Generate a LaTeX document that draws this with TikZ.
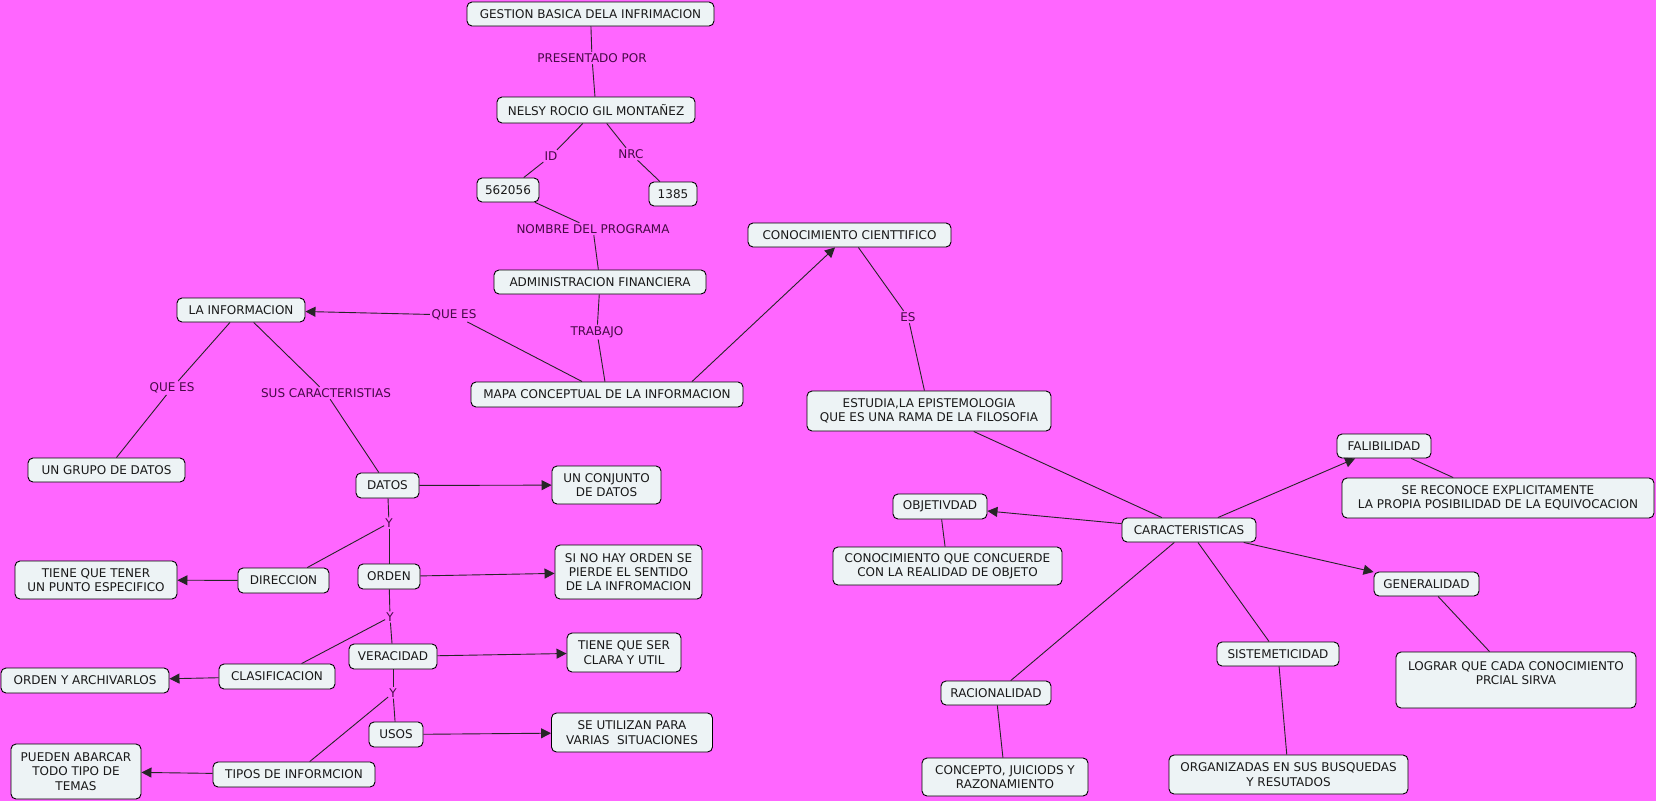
\documentclass[tikz,border=0pt]{standalone}
\usepackage{fontspec}
\setmainfont{DejaVu Sans}
\usetikzlibrary{arrows.meta}
\definecolor{bgpink}{RGB}{255,102,255}
\definecolor{boxfill}{RGB}{237,243,245}
\definecolor{lbltext}{RGB}{70,10,70}
\definecolor{boxtext}{RGB}{25,25,25}
\begin{document}
\begin{tikzpicture}[x=1pt,y=-1pt,
 cbox/.style={draw=black, fill=boxfill, rounded corners=5pt, line width=0.9pt, text=boxtext, align=center, font=\fontsize{12}{14.3}\selectfont, inner sep=2pt},
 lbl/.style={fill=bgpink, text=lbltext, font=\fontsize{12}{14.3}\selectfont, inner sep=1.5pt},
 ln/.style={draw=black!85, line width=0.9pt},
 arr/.style={ln, -{Triangle[length=10pt,width=10pt]}}]
\fill[bgpink] (0,0) rectangle (1656,801);
\useasboundingbox (0,0) rectangle (1656,801);

% concept nodes
\node[cbox, minimum width=247pt, minimum height=24pt] (gestion) at (590.5,14) {GESTION BASICA DELA INFRIMACION};
\node[cbox, minimum width=198pt, minimum height=26pt] (nelsy) at (596,110) {NELSY ROCIO GIL MONTAÑEZ};
\node[cbox, minimum width=62pt, minimum height=24pt] (idnum) at (508,190) {562056};
\node[cbox, minimum width=48pt, minimum height=24pt] (nrcnum) at (673,194) {1385};
\node[cbox, minimum width=212pt, minimum height=24pt] (admin) at (600,282) {ADMINISTRACION FINANCIERA};
\node[cbox, minimum width=272pt, minimum height=25pt] (mapa) at (607,394.5) {MAPA CONCEPTUAL DE LA INFORMACION};
\node[cbox, minimum width=128pt, minimum height=24pt] (lainfo) at (241,310) {LA INFORMACION};
\node[cbox, minimum width=157pt, minimum height=24pt] (grupo) at (106.5,470) {UN GRUPO DE DATOS};
\node[cbox, minimum width=63pt, minimum height=25pt] (datos) at (387.5,485.5) {DATOS};
\node[cbox, minimum width=109pt, minimum height=38pt] (conjunto) at (606.5,485) {UN CONJUNTO\\DE DATOS};
\node[cbox, minimum width=91pt, minimum height=25pt] (direccion) at (283.5,580.5) {DIRECCION};
\node[cbox, minimum width=162pt, minimum height=38pt] (tienetener) at (96,580) {TIENE QUE TENER\\UN PUNTO ESPECIFICO};
\node[cbox, minimum width=62pt, minimum height=25pt] (orden) at (389,576.5) {ORDEN};
\node[cbox, minimum width=147pt, minimum height=54pt] (sinohay) at (628.5,572) {SI NO HAY ORDEN SE\\PIERDE EL SENTIDO\\DE LA INFROMACION};
\node[cbox, minimum width=88pt, minimum height=25pt] (veracidad) at (393,656.5) {VERACIDAD};
\node[cbox, minimum width=114pt, minimum height=39pt] (tieneser) at (624,652.5) {TIENE QUE SER\\CLARA Y UTIL};
\node[cbox, minimum width=116pt, minimum height=25pt] (clasif) at (277,676.5) {CLASIFICACION};
\node[cbox, minimum width=168pt, minimum height=25pt] (ordenarch) at (85,680.5) {ORDEN Y ARCHIVARLOS};
\node[cbox, minimum width=54pt, minimum height=25pt] (usos) at (396,734.5) {USOS};
\node[cbox, minimum width=161pt, minimum height=39pt] (seutil) at (632,732.5) {SE UTILIZAN PARA\\VARIAS\ \ SITUACIONES};
\node[cbox, minimum width=162pt, minimum height=25pt] (tipos) at (294,774.5) {TIPOS DE INFORMCION};
\node[cbox, minimum width=130pt, minimum height=55pt] (pueden) at (76,771.5) {PUEDEN ABARCAR\\TODO TIPO DE\\TEMAS};
\node[cbox, minimum width=203pt, minimum height=24pt] (conocim) at (849.5,235) {CONOCIMIENTO CIENTTIFICO};
\node[cbox, minimum width=244pt, minimum height=40pt] (estudia) at (929,411) {ESTUDIA,LA EPISTEMOLOGIA\\QUE ES UNA RAMA DE LA FILOSOFIA};
\node[cbox, minimum width=134pt, minimum height=24pt] (caract) at (1189,530) {CARACTERISTICAS};
\node[cbox, minimum width=94pt, minimum height=24pt] (falib) at (1384,446) {FALIBILIDAD};
\node[cbox, minimum width=312pt, minimum height=40pt] (sereconoce) at (1498,498) {SE RECONOCE EXPLICITAMENTE\\LA PROPIA POSIBILIDAD DE LA EQUIVOCACION};
\node[cbox, minimum width=94pt, minimum height=25pt] (objet) at (940,506.5) {OBJETIVDAD};
\node[cbox, minimum width=229pt, minimum height=38pt] (concuerde) at (947.5,566) {CONOCIMIENTO QUE CONCUERDE\\CON LA REALIDAD DE OBJETO};
\node[cbox, minimum width=105pt, minimum height=24pt] (general) at (1426.5,584) {GENERALIDAD};
\node[cbox, minimum width=240pt, minimum height=56pt] (lograr) at (1516,680) {LOGRAR QUE CADA CONOCIMIENTO\\PRCIAL SIRVA\\ \mbox{}};
\node[cbox, minimum width=110pt, minimum height=24pt] (racional) at (996,693) {RACIONALIDAD};
\node[cbox, minimum width=166pt, minimum height=38pt] (concepto) at (1005,777) {CONCEPTO, JUICIODS Y\\RAZONAMIENTO};
\node[cbox, minimum width=122pt, minimum height=24pt] (sistem) at (1278,654) {SISTEMETICIDAD};
\node[cbox, minimum width=239pt, minimum height=39pt] (organiz) at (1288.5,774.5) {ORGANIZADAS EN SUS BUSQUEDAS\\Y RESUTADOS};

% link labels
\node[lbl] (lpresent) at (592,58) {PRESENTADO POR};
\node[lbl] (lid) at (551,156) {ID};
\node[lbl] (lnrc) at (631,154) {NRC};
\node[lbl] (lnombre) at (593,229) {NOMBRE DEL PROGRAMA};
\node[lbl] (ltrabajo) at (597,332) {TRABAJO};
\node[lbl] (lquees) at (454,315) {QUE ES};
\node[lbl] (lqueesb) at (172,388) {QUE ES};
\node[lbl] (lsus) at (326,393) {SUS CARACTERISTIAS};
\node[lbl] (les) at (908,317) {ES};
\node[lbl, inner sep=1pt] (ly1) at (389,523) {Y};
\node[lbl, inner sep=1pt] (ly2) at (390,617) {Y};
\node[lbl, inner sep=1pt] (ly3) at (393,693) {Y};

% connectors
\draw[ln] (gestion) -- (lpresent);
\draw[ln] (lpresent) -- (nelsy);
\draw[ln] (nelsy) -- (lid);
\draw[ln] (lid) -- (idnum);
\draw[ln] (nelsy) -- (lnrc);
\draw[ln] (lnrc) -- (nrcnum);
\draw[ln] (idnum) -- (lnombre);
\draw[ln] (lnombre) -- (admin);
\draw[ln] (admin) -- (ltrabajo);
\draw[ln] (ltrabajo) -- (mapa);
\draw[ln] (mapa) -- (lquees);
\draw[arr] (lquees) -- (lainfo);
\draw[arr] ([xshift=85pt]mapa.north) -- ([xshift=-14.5pt]conocim.south);
\draw[ln] (conocim) -- (les);
\draw[ln] (les) -- (estudia);
\draw[ln] (estudia) -- (caract);
\draw[arr] (caract) -- (falib);
\draw[ln] (falib) -- (sereconoce);
\draw[arr] (caract) -- (objet);
\draw[ln] (objet) -- (concuerde);
\draw[arr] (caract) -- (general);
\draw[ln] (general) -- (lograr);
\draw[ln] (caract) -- (racional);
\draw[ln] (racional) -- (concepto);
\draw[ln] (caract) -- (sistem);
\draw[ln] (sistem) -- (organiz);

\draw[ln] (lainfo) -- (lqueesb);
\draw[ln] (lqueesb) -- (grupo);
\draw[ln] (lainfo) -- (lsus);
\draw[ln] (lsus) -- (datos);
\draw[arr] (datos) -- (conjunto);
\draw[ln] (datos) -- (ly1);
\draw[ln] (ly1) -- (orden);
\draw[ln] (ly1) -- (direccion);
\draw[arr] (direccion) -- (tienetener);
\draw[arr] (orden) -- (sinohay);
\draw[ln] (orden) -- (ly2);
\draw[ln] (ly2) -- (veracidad);
\draw[ln] (ly2) -- (clasif);
\draw[arr] (clasif) -- (ordenarch);
\draw[arr] (veracidad) -- (tieneser);
\draw[ln] (veracidad) -- (ly3);
\draw[ln] (ly3) -- (usos);
\draw[ln] (ly3) -- (tipos);
\draw[arr] (tipos) -- (pueden);
\draw[arr] (usos) -- (seutil);
\end{tikzpicture}
\end{document}
